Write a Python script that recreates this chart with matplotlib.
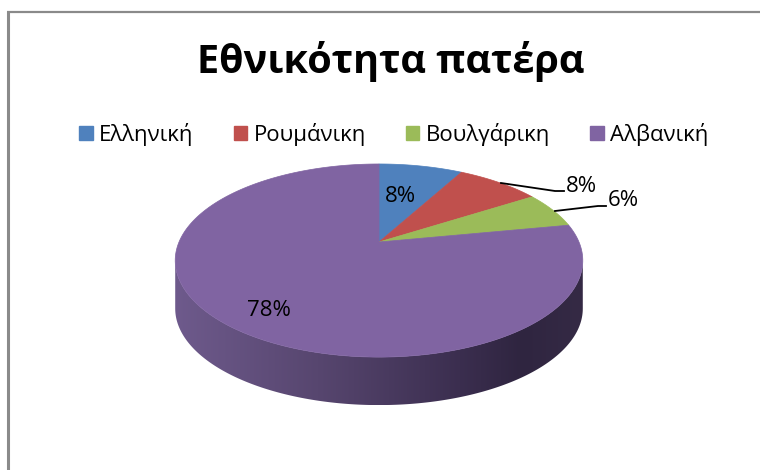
import numpy as np
import matplotlib.pyplot as plt
from matplotlib.patches import Polygon, Patch
from matplotlib.colors import LinearSegmentedColormap

# data
categories = ['Ελληνική', 'Ρουμάνικη', 'Βουλγάρικη', 'Αλβανική']
values = [8, 8, 6, 78]
colors = ['#4F81BD', '#C0504D', '#9BBB59', '#8064A2']
title = 'Εθνικότητα πατέρα'

plt.rcParams['font.family'] = ['Open Sans', 'DejaVu Sans']

# pie geometry in pixel space (perspective-tilted disc)
cx, cy = 379, 242
A, B, e = 200, 93, 0.192
depth = 48


def project(theta):
    # theta in radians, clockwise from 12 o'clock
    X = np.sin(theta)
    Y = np.cos(theta)
    w = 1 + e * Y
    return cx + A * X / w, cy - B * Y / w


fig = plt.figure(figsize=(7.6, 4.7), dpi=100)
ax = fig.add_axes([0, 0, 1, 1])
ax.set_xlim(0, 760)
ax.set_ylim(470, 0)
ax.axis('off')

# chart frame
ax.plot([8, 8], [11, 470], color='#8a8a8a', lw=2.2, solid_capstyle='butt')
ax.plot([7, 760], [11.5, 11.5], color='#8a8a8a', lw=1.6, solid_capstyle='butt')

# side wall (front half of the disc)
t = np.linspace(0, 2 * np.pi, 721)
px, py = project(t)
i_left = np.argmin(px)
i_right = np.argmax(px)
lo, hi = sorted([i_left, i_right])
arc = np.arange(lo, hi + 1)
if py[arc].max() < py.max():
    arc = np.concatenate([np.arange(hi, 721), np.arange(0, lo + 1)])
top_x, top_y = px[arc], py[arc]
side_xy = np.column_stack([np.concatenate([top_x, top_x[::-1]]),
                           np.concatenate([top_y, top_y[::-1] + depth])])
side = Polygon(side_xy, closed=True, facecolor='none', edgecolor='none')
ax.add_patch(side)
side_cmap = LinearSegmentedColormap.from_list(
    'side', [(0, '#6E5A8C'), (0.35, '#57466F'), (0.7, '#3B2E4F'),
             (0.85, '#2F2540'), (1.0, '#352A45')])
grad = np.linspace(0, 1, 256).reshape(1, -1)
im = ax.imshow(grad, cmap=side_cmap, aspect='auto',
               extent=[px.min(), px.max(), py.max() + depth, py.min()],
               zorder=1)
im.set_clip_path(side)

# top wedges
cum = np.concatenate([[0], np.cumsum(values)]) / np.sum(values) * 2 * np.pi
for k, col in enumerate(colors):
    tt = np.linspace(cum[k], cum[k + 1], 200)
    wx, wy = project(tt)
    xy = np.column_stack([np.concatenate([[cx], wx]), np.concatenate([[cy], wy])])
    ax.add_patch(Polygon(xy, closed=True, facecolor=col, edgecolor=col,
                         lw=0.5, zorder=2))

# data labels
labels = [f'{v}%' for v in values]
lab_fs = 16
ax.text(400, 196, labels[0], ha='center', va='center', fontsize=lab_fs, zorder=4)
ax.text(269, 311, labels[3], ha='center', va='center', fontsize=lab_fs, zorder=4)
ax.plot([501, 555, 564], [183, 191, 191], color='black', lw=1.3, zorder=3)
ax.text(566, 186, labels[1], ha='left', va='center', fontsize=lab_fs, zorder=4)
ax.plot([555, 598, 606], [211, 206, 206], color='black', lw=1.3, zorder=3)
ax.text(608, 201, labels[2], ha='left', va='center', fontsize=lab_fs, zorder=4)

# title
ax.text(391, 61, title, ha='center', va='center', fontsize=28.5,
        fontweight='bold')

# legend
handles = [Patch(facecolor=c, edgecolor=c) for c in colors]
fig.legend(handles, categories, loc='center', bbox_to_anchor=(394 / 760, 1 - 134 / 470),
           ncol=4, frameon=False, fontsize=16, handlelength=0.6, handleheight=0.6,
           handletextpad=0.3, columnspacing=1.8)

fig.savefig('out.png', dpi=100)
